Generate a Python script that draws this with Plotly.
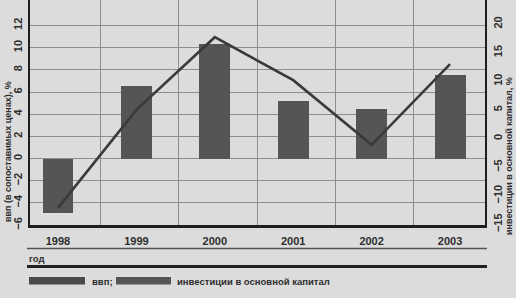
import plotly.graph_objects as go

years = ["1998", "1999", "2000", "2001", "2002", "2003"]
gdp = [-4.95, 6.5, 10.3, 5.2, 4.5, 7.5]          # ВВП, % (левая ось)
invest = [-12.1, 5.0, 17.7, 10.2, -1.1, 13.0]    # инвестиции, % (правая ось)
left_ticks = [-6, -4, -2, 0, 2, 4, 6, 8, 10, 12]
right_ticks = [-15, -10, -5, 0, 5, 10, 15, 20]

FONT = "Liberation Sans, Arial, sans-serif"
BG = "#dcdcdc"
TXT = "#2e2e2e"
GRID = "#8e8e8e"
BAR = "#555555"
LINE = "#3a3a3a"

xs = list(range(len(years)))

def fmt(v):
    return "<b>%s</b>" % ("−%d" % -v if v < 0 else "%d" % v)

fig = go.Figure()
fig.add_trace(go.Bar(x=xs, y=gdp, width=0.395, marker=dict(color=BAR, line=dict(width=0)),
                     yaxis="y", showlegend=False))
fig.add_trace(go.Scatter(x=xs, y=invest, mode="lines", line=dict(color=LINE, width=2.6),
                         yaxis="y2", showlegend=False))

fig.update_layout(
    width=516, height=298,
    margin=dict(l=30, r=31, t=0, b=73),
    paper_bgcolor=BG, plot_bgcolor=BG,
    font=dict(family=FONT, color=TXT, size=11),
    bargap=0,
    xaxis=dict(range=[-0.357, 5.446], tickvals=xs, ticktext=["<b>%s</b>" % y for y in years],
               showgrid=False, zeroline=False, showline=True, linecolor="#1e1e1e", linewidth=2.5,
               ticks="outside", ticklen=4, tickcolor="rgba(0,0,0,0)",
               tickfont=dict(size=11, color=TXT),
               minor=dict(tickvals=[i + 0.54 for i in xs[:-1]], showgrid=True, gridcolor=GRID,
                          gridwidth=1, ticks="")),
    yaxis=dict(range=[-6, 14.3], tickvals=left_ticks, ticktext=[fmt(v) for v in left_ticks],
               tickangle=-90, showgrid=True, gridcolor=GRID, gridwidth=1,
               zeroline=True, zerolinecolor=GRID, zerolinewidth=1,
               showline=True, linecolor="#1e1e1e", linewidth=2,
               ticks="outside", ticklen=2, tickcolor="rgba(0,0,0,0)",
               tickfont=dict(size=11, color=TXT)),
    yaxis2=dict(range=[-15.1, 24.2], overlaying="y", side="right", tickvals=right_ticks,
                ticktext=[fmt(v) for v in right_ticks],
                tickangle=-90, showgrid=False, zeroline=False,
                showline=True, linecolor="#1e1e1e", linewidth=2,
                ticks="outside", ticklen=2, tickcolor="rgba(0,0,0,0)",
                tickfont=dict(size=11, color=TXT)),
)

H = 225.0  # plot height in px
def py(px):
    return (H - px) / H

def px_x(px):
    return (px - 30) / 455.0

shapes = [
    dict(type="line", xref="paper", yref="paper", x0=px_x(27), x1=px_x(487), y0=py(248.5), y1=py(248.5),
         line=dict(color="#555555", width=1.5)),
    dict(type="line", xref="paper", yref="paper", x0=px_x(27), x1=px_x(487), y0=py(266.5), y1=py(266.5),
         line=dict(color="#222222", width=3)),
    dict(type="rect", xref="paper", yref="paper", x0=px_x(29), x1=px_x(85), y0=py(284.5), y1=py(277),
         fillcolor="#4a4a4a", line=dict(width=0)),
    dict(type="rect", xref="paper", yref="paper", x0=px_x(116), x1=px_x(171), y0=py(284.5), y1=py(277),
         fillcolor="#555555", line=dict(width=0)),
]
fig.update_layout(shapes=shapes)

annotations = [
    dict(xref="paper", yref="paper", x=px_x(27), y=py(258), xanchor="left", yanchor="middle",
         text="<b>год</b>", showarrow=False, font=dict(size=9.5, color=TXT)),
    dict(xref="paper", yref="paper", x=px_x(90), y=py(281), xanchor="left", yanchor="middle",
         text="<b>ввп;</b>", showarrow=False, font=dict(size=9.5, color=TXT)),
    dict(xref="paper", yref="paper", x=px_x(175), y=py(281), xanchor="left", yanchor="middle",
         text="<b>инвестиции в основной капитал</b>", showarrow=False, font=dict(size=9.5, color=TXT)),
    dict(xref="paper", yref="paper", x=px_x(8), y=py(152), xanchor="center", yanchor="middle",
         text="<b>ввп (в сопоставимых ценах), %</b>", textangle=-90, showarrow=False,
         font=dict(size=9, color=TXT)),
    dict(xref="paper", yref="paper", x=px_x(509), y=py(156), xanchor="center", yanchor="middle",
         text="<b>инвестиции в основной капитал, %</b>", textangle=-90, showarrow=False,
         font=dict(size=9, color=TXT)),
]
fig.update_layout(annotations=annotations)

fig.write_html("out.html")
